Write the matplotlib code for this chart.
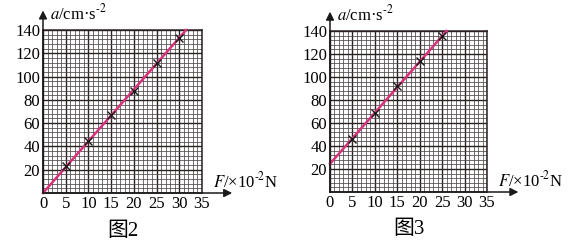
import matplotlib
matplotlib.use("Agg")
import matplotlib.pyplot as plt
import numpy as np

plt.rcParams['font.family'] = ['Liberation Serif', 'Noto Sans CJK SC']
plt.rcParams['mathtext.fontset'] = 'stix'

# fig 2 data
F2 = [5, 10, 15, 20, 25, 30]
a2 = [23, 45, 67, 88, 112, 133]
fit2_F = [0, 31.5]
fit2_a = [0, 140]

# fig 3 data
F3 = [5, 10, 15, 20, 25]
a3 = [46, 69, 92, 114, 136]
fit3_F = [0, 26]
fit3_a = [24.5, 140]

xticks = list(range(0, 36, 5))
yticks = list(range(0, 141, 20))
ytick_labels = [''] + [str(v) for v in yticks[1:]]

GRID_DARK = '#2b2222'
GRID_MINOR = '#4e4646'
LINE_COL = '#d8327c'

fig = plt.figure(figsize=(5.85, 2.49), dpi=100)


def draw_panel(rect, F, a, fitF, fita, caption, xarrow, yarrow):
    ax = fig.add_axes(rect)
    ax.set_xlim(0, 35)
    ax.set_ylim(0, 140)
    ax.set_xticks(xticks)
    ax.set_xticks(np.arange(0, 36, 1), minor=True)
    ax.set_yticks(yticks)
    ax.set_yticklabels(ytick_labels)
    ax.set_yticks(np.arange(0, 141, 4), minor=True)
    ax.tick_params(which='both', length=0, labelsize=12, pad=2)
    ax.grid(which='minor', color=GRID_MINOR, lw=0.55)
    ax.grid(which='major', color=GRID_DARK, lw=1.0)
    for s in ax.spines.values():
        s.set_color(GRID_DARK)
        s.set_linewidth(1.1)
    ax.plot(fitF, fita, color=LINE_COL, lw=1.8, clip_on=False, zorder=3)
    ax.plot(F, a, 'x', color='#1a1a1a', ms=6, mew=1.0, zorder=4)
    # axis arrows
    ax.annotate('', xy=(xarrow, 0), xytext=(0, 0), xycoords='axes fraction',
                arrowprops=dict(arrowstyle='-|>', color='#1a1a1a', lw=1.1,
                                mutation_scale=12, shrinkA=0, shrinkB=0))
    ax.annotate('', xy=(0, yarrow), xytext=(0, 0), xycoords='axes fraction',
                arrowprops=dict(arrowstyle='-|>', color='#1a1a1a', lw=1.1,
                                mutation_scale=12, shrinkA=0, shrinkB=0))
    ax.text(0.045, yarrow - 0.02, r'$a$/cm·s$^{\text{-2}}$', transform=ax.transAxes,
            fontsize=12, ha='left', va='center')
    ax.text(1.07, 0.07, r'$F$/×10$^{\text{-2}}$N', transform=ax.transAxes,
            fontsize=12, ha='left', va='center')
    ax.text(0.5, -0.235, caption, transform=ax.transAxes,
            fontsize=15, ha='center', va='center')
    return ax


draw_panel([43 / 585, 56 / 249, 159 / 585, 163 / 249], F2, a2, fit2_F, fit2_a,
           '图2', 1.19, 1.12)
draw_panel([330 / 585, 57 / 249, 157 / 585, 161 / 249], F3, a3, fit3_F, fit3_a,
           '图3', 1.20, 1.12)

fig.savefig('out.png', dpi=100)
